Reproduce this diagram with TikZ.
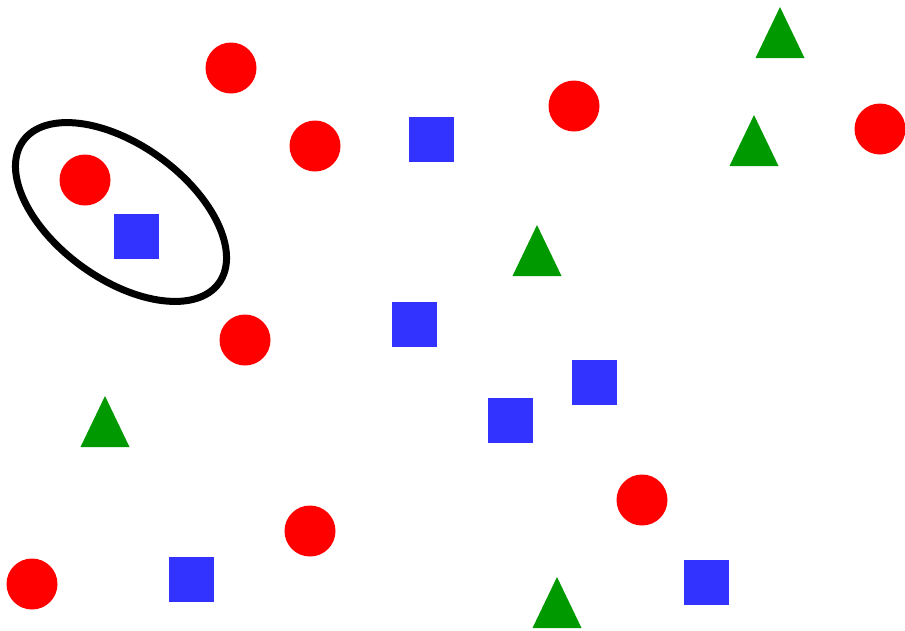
\documentclass[tikz,border=0pt]{standalone}
\usepackage{tikz}

\begin{document}
\begin{tikzpicture}[
    x=0.02cm, y=-0.02cm
]

% Parameters (pixel-like units, y grows downwards)
\def\rad{25.5}
\def\half{22.5}
\def\triW{24.5}
\def\triH{51}

\useasboundingbox (0,0) rectangle (905,630);

% === Red circles ===
\foreach \x/\y in {231/68, 315/146, 85/180, 574/106, 880/129,
                   245/340, 642/500, 310/531, 32/584} {
    \fill[red] (\x,\y) circle[radius=\rad];
}

% === Blue squares ===
\foreach \x/\y in {431/139, 136/236, 414/324, 594/382,
                   510/420, 191/579, 706/582} {
    \fill[blue!80] ({\x-\half},{\y-\half}) rectangle ({\x+\half},{\y+\half});
}

% === Green triangles (apex x / base y) ===
\foreach \x/\y in {780/58, 754/166, 537/276, 105/447, 557/628} {
    \fill[green!60!black]
        ({\x-\triW},\y) -- (\x,{\y-\triH}) -- ({\x+\triW},\y) -- cycle;
}

% === Ellipse round the selected pair ===
\draw[line width=0.14cm]
    (121,212) circle[x radius=121, y radius=67, rotate=-36];

\end{tikzpicture}
\end{document}
